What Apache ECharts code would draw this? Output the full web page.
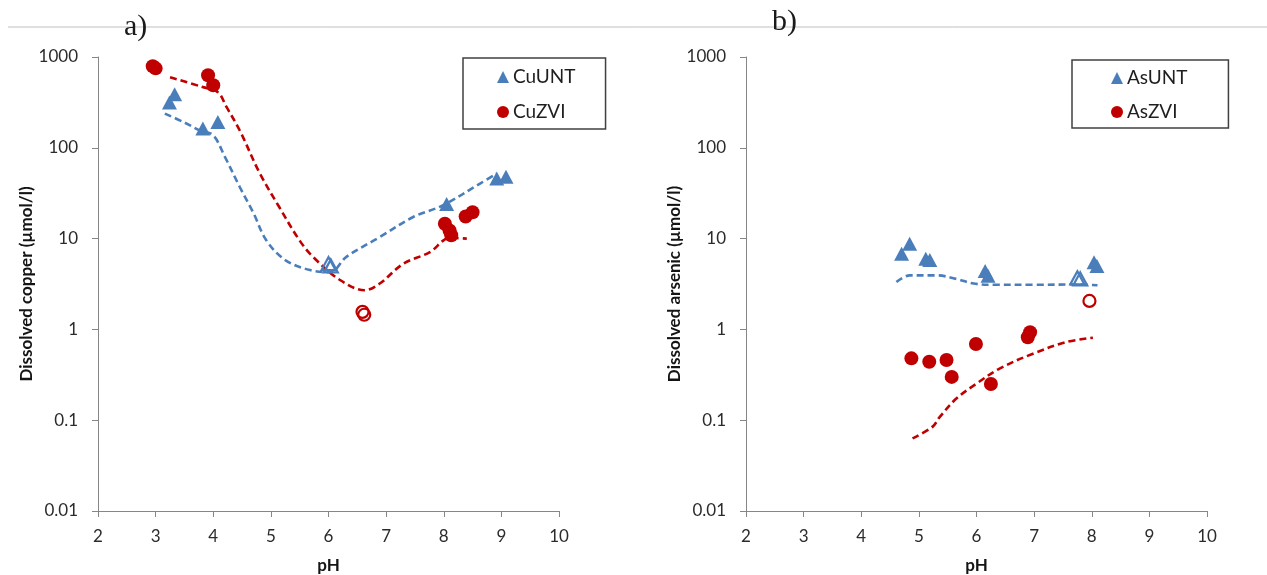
<!DOCTYPE html>
<html>
<head>
<meta charset="utf-8">
<script src="https://cdn.jsdelivr.net/npm/echarts@6.0.0/dist/echarts.min.js"></script>
<style>
  html, body { margin: 0; padding: 0; background: #ffffff; }
  #chart { width: 1267px; height: 575px; }
</style>
</head>
<body>
<div id="chart"></div>
<script>
// pH axis and concentration (log) axis labels
const phMin = 2, phMax = 10;
const concTickLabels = ['0.01', '0.1', '1', '10', '100', '1000'];

// ---- a) dissolved copper (µmol/l) vs pH ----
const cuUntFilled = [[3.24, 316], [3.33, 390], [3.82, 163], [4.08, 192], [8.05, 24], [8.92, 46], [9.08, 48]];
const cuUntOpen = [[6.00, 5.3], [6.04, 5.0]];
const cuZviFilled = [[2.95, 790], [3.00, 750], [3.91, 630], [4.00, 488], [8.02, 14.6], [8.10, 12.3], [8.13, 10.9], [8.38, 17.5], [8.50, 19.5]];
const cuZviOpen = [[6.59, 1.56], [6.62, 1.45]];
const cuUntTrend = [[3.16, 238], [3.50, 190], [3.77, 155], [4.00, 137], [4.20, 80], [4.46, 37], [4.70, 19], [4.92, 9.6], [5.25, 5.8], [5.68, 4.5], [6.03, 4.27], [6.31, 6.3], [6.89, 10.4], [7.47, 17.3], [7.99, 23.3], [8.63, 40.4], [8.92, 52]];
const cuZviTrend = [[3.25, 600], [3.80, 470], [4.08, 410], [4.23, 282], [4.46, 155], [4.81, 52], [5.15, 22], [5.50, 9.5], [5.73, 6.3], [6.20, 3.5], [6.63, 2.7], [6.89, 3.2], [7.30, 5.3], [7.76, 7.1], [7.99, 9.5], [8.10, 10.2], [8.40, 10]];

// ---- b) dissolved arsenic (µmol/l) vs pH ----
const asUntFilled = [[4.70, 6.8], [4.84, 8.8], [5.12, 6.0], [5.19, 5.8], [6.15, 4.4], [6.20, 3.9], [8.04, 5.5], [8.09, 5.0]];
const asUntOpen = [[7.75, 3.7], [7.80, 3.6]];
const asZviFilled = [[4.87, 0.48], [5.18, 0.44], [5.48, 0.46], [5.57, 0.30], [5.99, 0.69], [6.25, 0.25], [6.89, 0.82], [6.93, 0.93]];
const asZviOpen = [[7.96, 2.06]];
const asUntTrend = [[4.61, 3.33], [4.84, 3.94], [5.30, 3.94], [5.65, 3.6], [5.95, 3.2], [6.30, 3.1], [7.00, 3.1], [7.70, 3.12], [8.10, 3.06]];
const asZviTrend = [[4.89, 0.063], [5.24, 0.085], [5.36, 0.108], [5.65, 0.173], [6.00, 0.253], [6.40, 0.37], [6.98, 0.54], [7.56, 0.725], [8.02, 0.81]];

const BLUE = '#4a7ebb';
const RED = '#c00000';
const AXIS = '#868686';
const TEXT = '#2b2b2b';
const FONT = 'Lato';

function xAxisFor(gridIndex) {
  return {
    gridIndex, type: 'value', min: phMin, max: phMax, interval: 1,
    name: 'pH', nameLocation: 'middle', nameGap: 46,
    nameTextStyle: { fontFamily: FONT, fontSize: 17, fontWeight: 'bold', color: '#141414' },
    axisLine: { show: true, onZero: false, lineStyle: { color: AXIS, width: 1 } },
    axisTick: { show: true, length: 6, lineStyle: { color: AXIS } },
    axisLabel: { margin: 17, fontFamily: FONT, fontSize: 17, color: TEXT },
    splitLine: { show: false }
  };
}

function yAxisFor(gridIndex, title) {
  return {
    gridIndex, type: 'log', logBase: 10, min: 0.01, max: 1000, splitNumber: 5,
    name: title, nameLocation: 'middle', nameGap: 60,
    nameTextStyle: { fontFamily: FONT, fontSize: 17, fontWeight: 'bold', color: '#141414' },
    axisLine: { show: true, lineStyle: { color: AXIS, width: 1 } },
    axisTick: { show: true, length: 6, lineStyle: { color: AXIS } },
    axisLabel: {
      margin: 20, fontFamily: FONT, fontSize: 17, color: TEXT,
      formatter: v => concTickLabels[Math.round(Math.log10(v)) + 2]
    },
    splitLine: { show: false },
    minorTick: { show: false }
  };
}

function trend(data, color, idx) {
  return {
    type: 'line', xAxisIndex: idx, yAxisIndex: idx, data,
    smooth: 0.35, showSymbol: false, silent: true, z: 1,
    lineStyle: { color, width: 2.6, type: [7, 4] }
  };
}

function filled(name, data, symbol, color, idx) {
  return {
    name, type: 'scatter', xAxisIndex: idx, yAxisIndex: idx, data, symbol,
    symbolSize: symbol === 'triangle' ? [15, 14] : 14,
    itemStyle: { color, opacity: 1 }, z: 3
  };
}

function hollow(name, data, symbol, color, idx) {
  return {
    name, type: 'scatter', xAxisIndex: idx, yAxisIndex: idx, data, symbol,
    symbolSize: symbol === 'triangle' ? [14, 13] : 12,
    itemStyle: { color: 'rgba(255,255,255,0)', borderColor: color, borderWidth: 2.2, opacity: 1 }, z: 3
  };
}

function legendFor(names, left, top, padding, itemGap) {
  return {
    data: names, orient: 'vertical', left, top, padding, itemGap,
    itemWidth: 12, itemHeight: 12, itemStyle: { borderWidth: 0 },
    borderColor: '#404040', borderWidth: 1.5, borderRadius: 0,
    textStyle: { fontFamily: FONT, fontSize: 19, color: '#1f1f1f', lineHeight: 20, padding: [0, 0, 0, -1] },
    selectedMode: false
  };
}

const chart = echarts.init(document.getElementById('chart'), null, { renderer: 'canvas' });

chart.setOption({
  backgroundColor: '#ffffff',
  animation: false,
  grid: [
    { left: 98, top: 57, width: 461, height: 454, containLabel: false, outerBoundsMode: 'none' },
    { left: 746, top: 57, width: 461, height: 454, containLabel: false, outerBoundsMode: 'none' }
  ],
  xAxis: [xAxisFor(0), xAxisFor(1)],
  yAxis: [yAxisFor(0, 'Dissolved copper (µmol/l)'), yAxisFor(1, 'Dissolved arsenic (µmol/l)')],
  legend: [
    legendFor(['CuUNT', 'CuZVI'], 463, 58, [9, 30, 7, 34], 15),
    legendFor(['AsUNT', 'AsZVI'], 1072, 60, [8, 41, 6, 39], 14)
  ],
  graphic: [
    { type: 'line', shape: { x1: 8, y1: 27, x2: 1267, y2: 27 }, style: { stroke: '#bfbfbf', lineWidth: 1 }, z: 0 },
    { type: 'text', left: 124, top: 12, style: { text: 'a)', font: '30px "Liberation Serif"', fill: '#1a1a1a' }, z: 5 },
    { type: 'text', left: 772, top: 7, style: { text: 'b)', font: '30px "Liberation Serif"', fill: '#1a1a1a' }, z: 5 }
  ],
  series: [
    trend(cuUntTrend, BLUE, 0),
    trend(cuZviTrend, RED, 0),
    filled('CuUNT', cuUntFilled, 'triangle', BLUE, 0),
    hollow('CuUNT open', cuUntOpen, 'triangle', BLUE, 0),
    filled('CuZVI', cuZviFilled, 'circle', RED, 0),
    hollow('CuZVI open', cuZviOpen, 'circle', RED, 0),

    trend(asUntTrend, BLUE, 1),
    trend(asZviTrend, RED, 1),
    filled('AsUNT', asUntFilled, 'triangle', BLUE, 1),
    hollow('AsUNT open', asUntOpen, 'triangle', BLUE, 1),
    filled('AsZVI', asZviFilled, 'circle', RED, 1),
    hollow('AsZVI open', asZviOpen, 'circle', RED, 1)
  ]
});
</script>
</body>
</html>
